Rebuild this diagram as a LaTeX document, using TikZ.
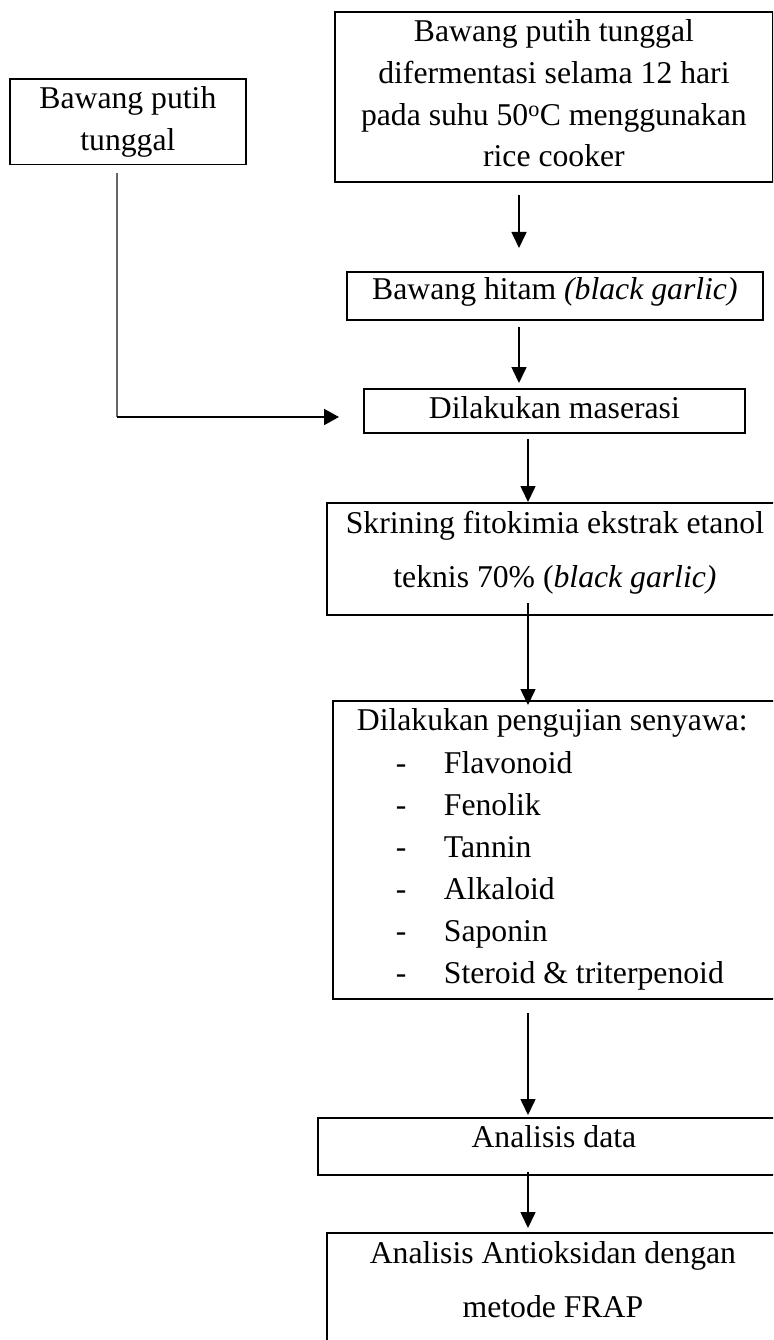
\documentclass[tikz,border=0pt]{standalone}
\usepackage{fontspec}
\setmainfont{Liberation Serif}
\usetikzlibrary{arrows.meta}
\newcommand{\mytop}[1]{\rule{0pt}{#1}}
\newcommand{\mybot}[1]{\rule[-#1]{0pt}{0pt}}
\begin{document}
\begin{tikzpicture}[x=1pt,y=-1pt,
  box/.style={draw,line width=1.8pt,anchor=north west,inner xsep=0pt,inner ysep=0pt,align=flush center,
    font=\fontsize{31.7}{41.7}\selectfont},
  wide/.style={font=\fontsize{31.7}{54}\selectfont},
  list/.style={font=\fontsize{31.7}{42.17}\selectfont},
  arr/.style={line width=1.6pt,-{Triangle[width=15pt,length=16pt]}},
  harr/.style={line width=2pt,-{Triangle[width=16pt,length=15pt]}},
  thin/.style={draw=black!60,line width=1.1pt},
]
\useasboundingbox (0,0) rectangle (773,1340);
\begin{scope}
\clip (0,0) rectangle (773,1340);
% boxes
\node[box,text width=236pt] (lb) at (9,78) {\mytop{30pt}Bawang putih\\tunggal\mybot{14pt}};
\node[box,text width=438pt] (tb) at (334,11)
  {\mytop{30pt}Bawang putih tunggal\\difermentasi selama 12 hari\\pada suhu 50\textsuperscript{o}C menggunakan\\rice cooker\mybot{15pt}};
\node[box,text width=416pt] (bh) at (346,271) {\mytop{28pt}Bawang hitam \textit{(black garlic)}\mybot{20pt}};
\node[box,text width=381pt] (ms) at (363,388) {\mytop{30pt}Dilakukan maserasi\mybot{14pt}};
\node[box,wide,text width=456pt] (sk) at (326,502)
  {\mytop{31pt}Skrining fitokimia ekstrak etanol\\teknis 70\% (\textit{black garlic)}\mybot{27pt}};
\node[box,list,align=flush left,text width=434pt,inner xsep=24pt] (pg) at (332,700)
  {\mytop{30pt}Dilakukan pengujian senyawa:\\
   \makebox[87pt][l]{\hspace*{39pt}-}Flavonoid\\
   \makebox[87pt][l]{\hspace*{39pt}-}Fenolik\\
   \makebox[87pt][l]{\hspace*{39pt}-}Tannin\\
   \makebox[87pt][l]{\hspace*{39pt}-}Alkaloid\\
   \makebox[87pt][l]{\hspace*{39pt}-}Saponin\\
   \makebox[87pt][l]{\hspace*{39pt}-}Steroid \& triterpenoid\mybot{15pt}};
\node[box,text width=472pt] (ad) at (317,1117) {\mytop{30pt}Analisis data\mybot{27pt}};
\node[box,wide,text width=452pt] (fr) at (326,1232)
  {\mytop{31pt}Analisis Antioksidan dengan\\metode FRAP\mybot{40pt}};
% connector end points
\coordinate (a1s) at (519,195); \coordinate (a1e) at (519,248);
\coordinate (a2s) at (519,327); \coordinate (a2e) at (519,383);
\coordinate (a3s) at (528,439); \coordinate (a3e) at (528,502);
\coordinate (a4s) at (528,603); \coordinate (a4e) at (528,705);
\coordinate (a5s) at (528,1013); \coordinate (a5e) at (528,1115);
\coordinate (a6s) at (528,1172); \coordinate (a6e) at (528,1228);
\coordinate (ls) at (117,173); \coordinate (lc) at (117,417); \coordinate (lt) at (339,417);
% connectors
\draw[arr] (a1s) -- (a1e);
\draw[arr] (a2s) -- (a2e);
\draw[arr] (a3s) -- (a3e);
\draw[arr] (a4s) -- (a4e);
\draw[arr] (a5s) -- (a5e);
\draw[arr] (a6s) -- (a6e);
\draw[thin] (ls) -- (lc);
\draw[harr] (lc) -- (lt);
\end{scope}
\end{tikzpicture}
\end{document}
